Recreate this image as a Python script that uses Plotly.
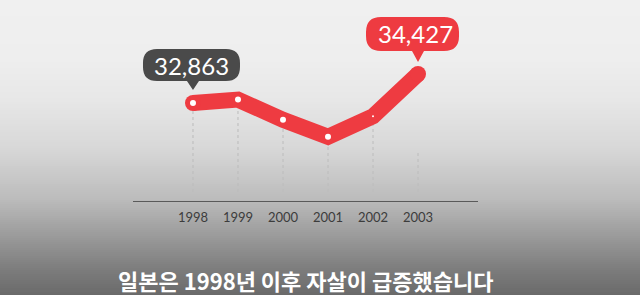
import plotly.graph_objects as go

# ---- data ----
years = [1998, 1999, 2000, 2001, 2002, 2003]
suicides = [32863, 33048, 31957, 31042, 32143, 34427]
tick_labels = ["1998", "1999", "2000", "2001", "2002", "2003"]
label_start = "32,863"
label_end = "34,427"
subtitle = "일본은 1998년 이후 자살이 급증했습니다"

# ---- layout geometry ----
W, H = 640, 295
ML, MR, MT, MB = 133, 162, 10, 94
PW, PH = W - ML - MR, H - MT - MB
X_RANGE = [1996.667, 2004.333]
Y_RANGE = [27578, 37879]

RED = "#ee3b41"
DARK = "#4a4a4a"


def px_to_paper_x(px):
    return (px - ML) / PW


def px_to_paper_y(py):
    return (H - MB - py) / PH


def py_to_val(py):
    return Y_RANGE[0] + (H - MB - py) / PH * (Y_RANGE[1] - Y_RANGE[0])


fig = go.Figure()

# background gradient (strips)
stops = [(0, 240), (60, 238), (100, 231), (150, 215), (200, 187),
         (230, 160), (250, 142), (270, 124), (295, 106)]


def grey_at(py):
    for (a, ga), (b, gb) in zip(stops[:-1], stops[1:]):
        if a <= py <= b:
            t = (py - a) / (b - a)
            return int(round(ga + (gb - ga) * t))
    return stops[-1][1]


shapes = []
step = 2
for py in range(0, H, step):
    g = grey_at(py + step / 2)
    shapes.append(dict(
        type="rect", xref="paper", yref="paper", layer="below",
        x0=px_to_paper_x(0), x1=px_to_paper_x(W),
        y0=px_to_paper_y(py + step + 0.5), y1=px_to_paper_y(py),
        fillcolor=f"rgb({g},{g},{g})", line=dict(width=0)))

# dashed stems
stem_bottom = py_to_val(192)
stem_fraction = [1, 1, 1, 1, 1, 0.34]
for x, v, f in zip(years, suicides, stem_fraction):
    top = stem_bottom + (v - stem_bottom) * f
    shapes.append(dict(type="line", xref="x", yref="y", layer="below",
                       x0=x, x1=x, y0=stem_bottom, y1=top,
                       line=dict(color="#bcbcbc", width=1, dash="3px,3px")))


def bubble_path(x0, x1, yb, yt, r, tip, hw=6):
    return (f"M {x0 + r},{yt} L {x1 - r},{yt} Q {x1},{yt} {x1},{yt - r} "
            f"L {x1},{yb + r} Q {x1},{yb} {x1 - r},{yb} "
            f"L {hw},{yb} L 0,{tip} L {-hw},{yb} "
            f"L {x0 + r},{yb} Q {x0},{yb} {x0},{yb + r} "
            f"L {x0},{yt - r} Q {x0},{yt} {x0 + r},{yt} Z")


shapes.append(dict(type="path", xref="x", yref="y", xsizemode="pixel", ysizemode="pixel",
                   xanchor=years[0], yanchor=suicides[0],
                   path=bubble_path(-50, 47, 22, 54, 14, 13),
                   fillcolor=DARK, line=dict(width=0)))
shapes.append(dict(type="path", xref="x", yref="y", xsizemode="pixel", ysizemode="pixel",
                   xanchor=years[-1], yanchor=suicides[-1],
                   path=bubble_path(-52, 41, 23, 57, 15, 12),
                   fillcolor=RED, line=dict(width=0)))

# main line
fig.add_trace(go.Scatter(
    x=years, y=suicides, mode="lines+markers",
    line=dict(color=RED, width=16),
    marker=dict(size=[16, 0, 0, 0, 0, 16], color=RED, opacity=1, line=dict(width=0)),
    hoverinfo="skip", showlegend=False))
# white dots
fig.add_trace(go.Scatter(
    x=years, y=suicides, mode="markers",
    marker=dict(size=[6, 6, 6, 6, 2, 0], color="white", opacity=1, line=dict(width=0)),
    hoverinfo="skip", showlegend=False))

annotations = [
    dict(x=years[0], y=suicides[0], xref="x", yref="y", text=label_start,
         showarrow=False, xshift=-1, yshift=38,
         font=dict(family="Lato", size=24, color="white", weight=400)),
    dict(x=years[-1], y=suicides[-1], xref="x", yref="y", text=label_end,
         showarrow=False, xshift=-3, yshift=41,
         font=dict(family="Lato", size=24, color="white", weight=400)),
    dict(x=px_to_paper_x(305.5), y=px_to_paper_y(280), xref="paper", yref="paper",
         text=subtitle, showarrow=False, xanchor="center", yanchor="middle",
         font=dict(family="Noto Sans CJK KR", size=22, color="white", weight=700)),
]

fig.update_layout(
    width=W, height=H,
    margin=dict(l=ML, r=MR, t=MT, b=MB, pad=0),
    paper_bgcolor="#e0e0e0", plot_bgcolor="rgba(0,0,0,0)",
    shapes=shapes, annotations=annotations,
    xaxis=dict(range=X_RANGE, tickvals=years, ticktext=tick_labels,
               showgrid=False, zeroline=False, showline=True,
               linecolor="#5a5a5a", linewidth=1, ticks="",
               ticklabelstandoff=4,
               tickfont=dict(family="Lato", size=13, color="#3c3c3c"),
               fixedrange=True),
    yaxis=dict(range=Y_RANGE, visible=False, showgrid=False, zeroline=False,
               fixedrange=True),
    showlegend=False,
)

fig.write_html("out.html", config=dict(displayModeBar=False))
